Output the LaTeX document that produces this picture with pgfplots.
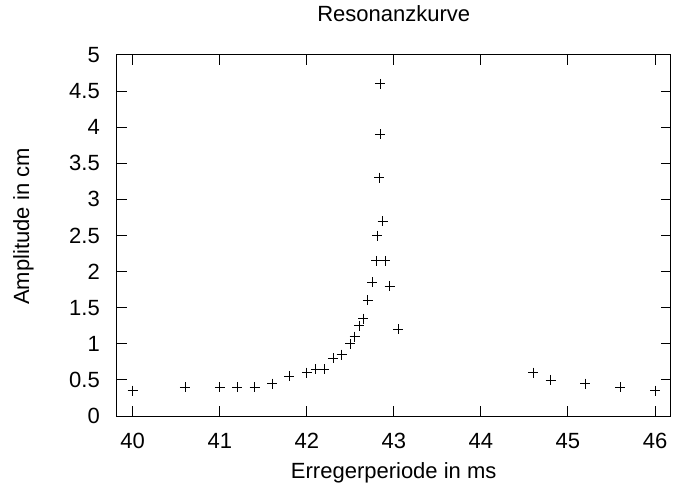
\documentclass[border=0pt]{standalone}
\usepackage{pgfplots}
\pgfplotsset{compat=1.18}
\usepackage{fontspec}
\setmainfont{Liberation Sans}
\begin{document}
\fontsize{22bp}{26bp}\selectfont
\begin{tikzpicture}
\begin{axis}[
  scale only axis, width=554bp, height=361bp,
  xmin=39.816, xmax=46.18, ymin=0, ymax=5,
  xtick={40,41,42,43,44,45,46},
  ytick={0,0.5,1,1.5,2,2.5,3,3.5,4,4.5,5},
  yticklabels={0,0.5,1,1.5,2,2.5,3,3.5,4,4.5,5},
  tick align=inside, major tick length=10bp,
  axis line style={line width=1bp},
  every tick/.style={black, line width=1bp},
  /pgf/number format/assume math mode=true,
  xticklabel style={anchor=base, yshift=-32.5bp},
  yticklabel style={anchor=east, xshift=-9.4bp},
  title={Resonanzkurve},
  title style={at={(axis description cs:0.5,1.0753)}, anchor=base, inner sep=0pt},
  xlabel={Erregerperiode in ms},
  xlabel style={at={(axis description cs:0.5,-0.1745)}, anchor=base, inner sep=0pt},
  ylabel={Amplitude in cm},
  ylabel style={at={(axis description cs:-0.1583,0.525)}, anchor=base, inner sep=0pt},
]
\addplot[only marks, mark=+, mark size=5bp, line width=0.8bp, black] coordinates {
(40,0.35) (40.6,0.4) (41,0.4) (41.2,0.4) (41.4,0.4) (41.6,0.45) (41.8,0.55)
(42,0.6) (42.1,0.65) (42.2,0.65) (42.3,0.8) (42.4,0.85) (42.5,1.0) (42.55,1.1)
(42.6,1.25) (42.65,1.35) (42.7,1.6) (42.75,1.85) (42.8,2.15) (42.81,2.5)
(42.87,2.7) (42.83,3.3) (42.84,3.9) (42.84,4.6) (42.9,2.15) (42.95,1.8)
(43.05,1.2) (44.6,0.6) (44.8,0.5) (45.2,0.45) (45.6,0.4) (46,0.35)
};
\end{axis}
\pgfresetboundingbox
\path[use as bounding box] (current axis.south west) ++(-116.7bp,-67bp) rectangle ++(674bp,483bp);
\end{tikzpicture}
\end{document}
